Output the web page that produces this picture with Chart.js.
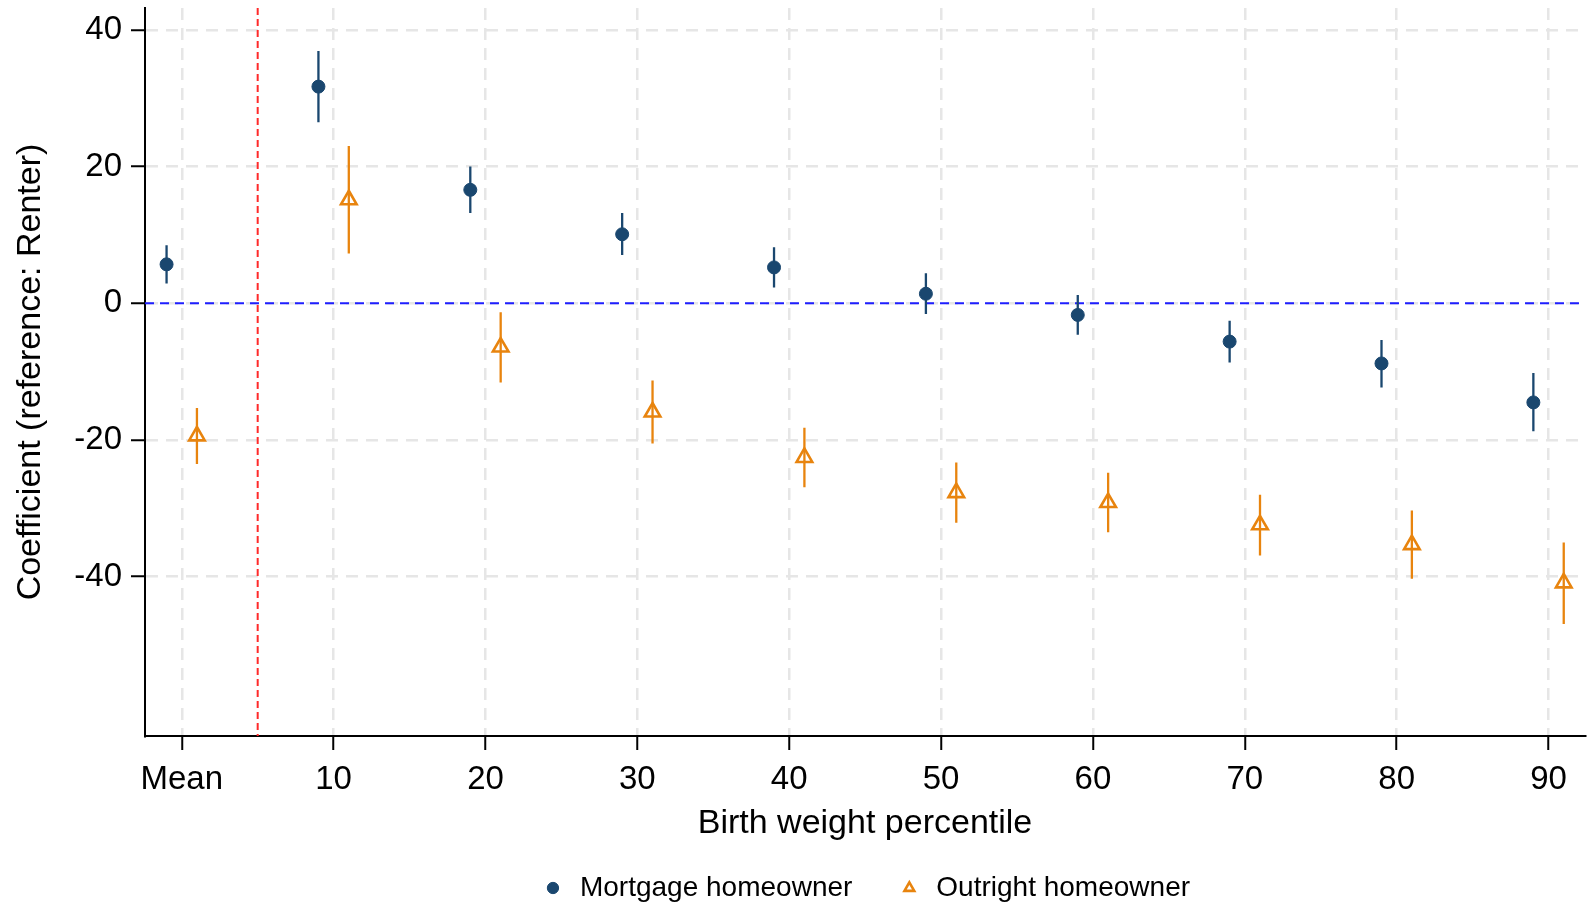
<!DOCTYPE html>
<html>
<head>
<meta charset="utf-8">
<script src="https://cdn.jsdelivr.net/npm/chart.js@4.4.1/dist/chart.umd.min.js"></script>
<style>
html,body{margin:0;padding:0;background:#ffffff;}
#wrap{width:1589px;height:905px;position:relative;}
</style>
</head>
<body>
<div id="wrap"><canvas id="c" width="1589" height="905"></canvas></div>
<script>
// ---- data ----
const categories = [0, 10, 20, 30, 40, 50, 60, 70, 80, 90];
const categoryLabels = ['Mean', '10', '20', '30', '40', '50', '60', '70', '80', '90'];
const yTickValues = [-40, -20, 0, 20, 40];

const mortgageCoef = [5.7, 31.7, 16.6, 10.1, 5.25, 1.4, -1.7, -5.6, -8.8, -14.5];
const mortgageLow  = [2.9, 26.5, 13.2, 7.05, 2.3, -1.56, -4.6, -8.67, -12.3, -18.7];
const mortgageHigh = [8.5, 36.9, 20.0, 13.2, 8.2, 4.4, 1.2, -2.54, -5.36, -10.2];

const outrightCoef = [-19.4, 15.15, -6.4, -15.9, -22.55, -27.7, -29.15, -32.4, -35.3, -40.9];
const outrightLow  = [-23.5, 7.3, -11.6, -20.5, -26.9, -32.1, -33.5, -36.9, -40.3, -46.9];
const outrightHigh = [-15.3, 23.0, -1.3, -11.3, -18.2, -23.3, -24.8, -28.0, -30.3, -35.0];

const seriesNames = ['Mortgage homeowner', 'Outright homeowner'];
const xTitle = 'Birth weight percentile';
const yTitle = 'Coefficient (reference: Renter)';
const refLineX = 5;
const refLineY = 0;

// ---- styling / layout ----
const NAVY = '#1a476f';
const ORANGE = '#e8840e';
const dodge = 1;
const FONT = "'Liberation Sans', Arial, sans-serif";

function buildPoints(coef, lo, hi, offset) {
  return categories.map((c, i) => ({ x: c + offset, y: coef[i], lo: lo[i], hi: hi[i] }));
}

const refAndErrorPlugin = {
  id: 'refAndError',
  beforeDatasetsDraw(chart) {
    const { ctx, chartArea: a, scales: { x, y } } = chart;
    ctx.save();
    ctx.beginPath();
    ctx.rect(a.left, a.top, a.right - a.left, a.bottom - a.top);
    ctx.clip();
    const py = y.getPixelForValue(refLineY);
    ctx.strokeStyle = '#1f1fff';
    ctx.lineWidth = 2;
    ctx.setLineDash([9, 6]);
    ctx.beginPath();
    ctx.moveTo(a.left, py);
    ctx.lineTo(a.right, py);
    ctx.stroke();
    const px = x.getPixelForValue(refLineX);
    ctx.strokeStyle = '#ff2a2a';
    ctx.setLineDash([7, 4]);
    ctx.beginPath();
    ctx.moveTo(px, a.top);
    ctx.lineTo(px, a.bottom);
    ctx.stroke();
    ctx.setLineDash([]);
    chart.data.datasets.forEach(ds => {
      ctx.strokeStyle = ds.borderColor;
      ctx.lineWidth = 2.3;
      ctx.beginPath();
      ds.data.forEach(p => {
        const X = x.getPixelForValue(p.x);
        ctx.moveTo(X, y.getPixelForValue(p.lo));
        ctx.lineTo(X, y.getPixelForValue(p.hi));
      });
      ctx.stroke();
    });
    ctx.restore();
  }
};

const gridCommon = {
  color: '#e6e6e6',
  lineWidth: 2.5,
  drawTicks: true,
  tickLength: 14,
  tickColor: '#000000',
  tickWidth: 2
};

new Chart(document.getElementById('c'), {
  type: 'scatter',
  data: {
    datasets: [
      {
        label: seriesNames[0],
        data: buildPoints(mortgageCoef, mortgageLow, mortgageHigh, -dodge),
        pointStyle: 'circle',
        pointRadius: 6.5,
        borderWidth: 1,
        backgroundColor: NAVY,
        borderColor: NAVY
      },
      {
        label: seriesNames[1],
        data: buildPoints(outrightCoef, outrightLow, outrightHigh, dodge),
        pointStyle: 'triangle',
        pointRadius: 9,
        borderWidth: 2.6,
        backgroundColor: 'rgba(255,255,255,0)',
        borderColor: ORANGE
      }
    ]
  },
  options: {
    responsive: false,
    animation: false,
    events: [],
    layout: { autoPadding: false, padding: { top: 8, left: 0, right: 4, bottom: 0 } },
    scales: {
      x: {
        type: 'linear',
        min: -2.42,
        max: 92.4,
        afterBuildTicks: s => { s.ticks = categories.map(v => ({ value: v })); },
        afterFit: s => { s.height = 94; s.paddingLeft = 0; s.paddingRight = 0; },
        ticks: {
          padding: 10,
          color: '#000',
          font: { family: FONT, size: 33 },
          maxRotation: 0,
          autoSkip: false,
          callback: v => categoryLabels[categories.indexOf(v)]
        },
        grid: gridCommon,
        border: { display: true, color: '#000', width: 2, dash: [12, 8] },
        title: {
          display: true,
          text: xTitle,
          color: '#000',
          font: { family: FONT, size: 34 },
          padding: { top: 0, bottom: -14 }
        }
      },
      y: {
        type: 'linear',
        min: -63.3,
        max: 43.2,
        afterBuildTicks: s => { s.ticks = yTickValues.map(v => ({ value: v })); },
        afterFit: s => { s.width = 145; s.paddingTop = 0; s.paddingBottom = 0; },
        ticks: {
          padding: 9,
          color: '#000',
          font: { family: FONT, size: 33 },
          callback: v => String(v)
        },
        grid: gridCommon,
        border: { display: true, color: '#000', width: 2, dash: [12, 8] },
        title: {
          display: true,
          text: yTitle,
          color: '#000',
          font: { family: FONT, size: 34 },
          padding: { top: 10, bottom: 0 }
        }
      }
    },
    plugins: {
      legend: {
        position: 'bottom',
        fullSize: false,
        maxHeight: 75,
        labels: {
          usePointStyle: true,
          boxWidth: 26,
          boxHeight: 8,
          padding: 44,
          color: '#000',
          font: { family: FONT, size: 28 }
        }
      },
      tooltip: { enabled: false }
    }
  },
  plugins: [refAndErrorPlugin]
});
</script>
</body>
</html>
